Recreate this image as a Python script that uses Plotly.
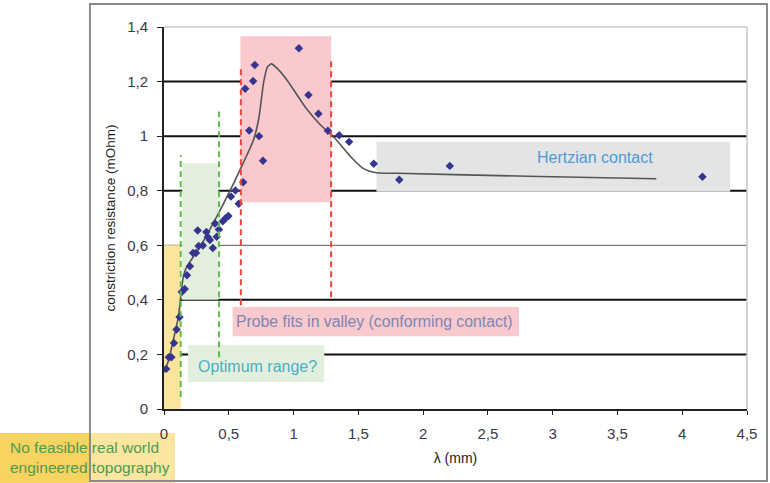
import plotly.graph_objects as go

# Measured constriction resistance versus wavelength
lam_mm = [0.017, 0.037, 0.057, 0.077, 0.097, 0.12, 0.137, 0.16, 0.177, 0.2,
          0.224, 0.247, 0.26, 0.267, 0.3, 0.327, 0.338, 0.354, 0.377, 0.394,
          0.407, 0.424, 0.454, 0.477, 0.497, 0.517, 0.551, 0.577, 0.611, 0.627,
          0.658, 0.688, 0.701, 0.734, 0.764, 1.041, 1.115, 1.192, 1.265, 1.352,
          1.429, 1.619, 1.816, 2.206, 4.156]
resistance = [0.147, 0.19, 0.19, 0.242, 0.291, 0.337, 0.429, 0.44, 0.49, 0.523,
              0.572, 0.572, 0.654, 0.597, 0.599, 0.649, 0.63, 0.619, 0.59, 0.68,
              0.631, 0.658, 0.688, 0.7, 0.707, 0.779, 0.801, 0.752, 0.831, 1.174,
              1.021, 1.202, 1.261, 1.0, 0.91, 1.322, 1.151, 1.082, 1.02, 1.003,
              0.979, 0.899, 0.84, 0.891, 0.851]

# Trend line through the measurements
trend_x = [0.0, 0.035, 0.072, 0.111, 0.129, 0.149, 0.175, 0.278, 0.407, 0.51,
           0.59, 0.69, 0.73, 0.77, 0.80, 0.83, 0.87, 0.95, 1.1, 1.21,
           1.31, 1.45, 1.54, 1.64, 1.8, 2.8, 3.8]
trend_y = [0.135, 0.178, 0.253, 0.338, 0.411, 0.485, 0.521, 0.594, 0.705, 0.80,
           0.88, 0.985, 1.06, 1.2, 1.255, 1.265, 1.25, 1.205, 1.10, 1.04,
           0.997, 0.92, 0.881, 0.866, 0.864, 0.853, 0.844]

x_ticks = [0, 0.5, 1, 1.5, 2, 2.5, 3, 3.5, 4, 4.5]
x_ticktext = ["0", "0,5", "1", "1,5", "2", "2,5", "3", "3,5", "4", "4,5"]
y_ticks = [0, 0.2, 0.4, 0.6, 0.8, 1.0, 1.2, 1.4]
y_ticktext = ["0", "0,2", "0,4", "0,6", "0,8", "1", "1,2", "1,4"]
grid_bold = [0.2, 0.4, 0.8, 1.0, 1.2]
grid_thin = [0.6]

# Shaded regimes: (x0, x1, y0, y1, colour)
regions = [
    (0.0, 0.13, 0.0, 0.6, "#fbe49c"),      # no feasible topography
    (0.14, 0.42, 0.4, 0.9, "#e2efdd"),     # optimum range
    (0.59, 1.29, 0.758, 1.366, "#f9c9cd"), # conforming contact
    (1.64, 4.37, 0.796, 0.979, "#e3e4e6"), # Hertzian contact
]
# Regime boundaries: (x, y0, y1, colour)
boundaries = [
    (0.129, 0.044, 0.93, "#5cbf4c"),
    (0.425, 0.19, 1.09, "#5cbf4c"),
    (0.593, 0.38, 1.254, "#e8453c"),
    (1.29, 0.41, 1.285, "#e8453c"),
]

FONT = "Liberation Sans, Arial"

fig = go.Figure()

fig.add_trace(go.Scatter(
    x=trend_x, y=trend_y, mode="lines",
    line=dict(color="#555555", width=1.6, shape="spline", smoothing=0.6),
    hoverinfo="skip", showlegend=False))

fig.add_trace(go.Scatter(
    x=lam_mm, y=resistance, mode="markers",
    marker=dict(symbol="diamond", size=6.5, color="#35348e"),
    showlegend=False))

shapes = []
for x0, x1, y0, y1, col in regions:
    shapes.append(dict(type="rect", xref="x", yref="y", x0=x0, x1=x1, y0=y0, y1=y1,
                       fillcolor=col, line=dict(width=0), layer="below"))

# Label backgrounds
shapes.append(dict(type="rect", xref="x", yref="y", x0=0.53, x1=2.74, y0=0.267, y1=0.374,
                   fillcolor="#f9c9cd", line=dict(width=0), layer="below"))
shapes.append(dict(type="rect", xref="x", yref="y", x0=0.186, x1=1.237, y0=0.099, y1=0.234,
                   fillcolor="#e2efdd", line=dict(width=0), layer="below"))

for g in grid_bold:
    shapes.append(dict(type="line", xref="paper", yref="y", x0=0, x1=1, y0=g, y1=g,
                       line=dict(color="#111111", width=2), layer="below"))
for g in grid_thin:
    shapes.append(dict(type="line", xref="paper", yref="y", x0=0, x1=1, y0=g, y1=g,
                       line=dict(color="#777777", width=1.2), layer="below"))

for x, y0, y1, col in boundaries:
    shapes.append(dict(type="line", xref="x", yref="y", x0=x, x1=x, y0=y0, y1=y1,
                       line=dict(color=col, width=2, dash="6px,4px")))

# Plot-area frame (light) on top and right
shapes.append(dict(type="line", xref="paper", yref="paper", x0=0, x1=1, y0=1, y1=1,
                   line=dict(color="#c8c8c8", width=1.5)))
shapes.append(dict(type="line", xref="paper", yref="paper", x0=1, x1=1, y0=0, y1=1,
                   line=dict(color="#c8c8c8", width=1.5)))

# Label outside the axes, bottom-left (kept beneath the tick labels)
shapes.append(dict(type="rect", xref="paper", yref="paper", x0=-0.2813, x1=-0.127,
                   y0=-0.1937, y1=-0.0628, fillcolor="#f7d35f", line=dict(width=0),
                   layer="below"))
shapes.append(dict(type="rect", xref="paper", yref="paper", x0=-0.127, x1=0.0189,
                   y0=-0.1937, y1=-0.0628, fillcolor="#fbe6a0", line=dict(width=0),
                   layer="below"))

# Outer chart frame
shapes.append(dict(type="rect", xref="paper", yref="paper", x0=-0.127, x1=1.0343,
                   y0=-0.1885, y1=1.0602, line=dict(color="#8a8a8a", width=2)))

annotations = [
    dict(x=3.326, y=0.923, xref="x", yref="y", text="Hertzian contact", showarrow=False,
         font=dict(family=FONT, size=16, color="#4f9ad3")),
    dict(x=1.628, y=0.322, xref="x", yref="y",
         text="Probe fits in valley (conforming contact)", showarrow=False,
         font=dict(family=FONT, size=15.8, color="#7b86b3")),
    dict(x=0.723, y=0.154, xref="x", yref="y", text="Optimum range?", showarrow=False,
         font=dict(family=FONT, size=16, color="#4aaec4")),
    dict(x=-0.268, y=-0.128, xref="paper", yref="paper", xanchor="left", yanchor="middle",
         align="left", showarrow=False,
         text="No feasible real world<br>engineered topography",
         font=dict(family=FONT, size=15.5, color="#4f9a55")),
]

fig.update_layout(
    width=770, height=483,
    margin=dict(l=164, r=23, t=27, b=74),
    paper_bgcolor="white", plot_bgcolor="white",
    shapes=shapes, annotations=annotations,
    font=dict(family=FONT, size=12, color="#333333"),
    xaxis=dict(range=[0, 4.5], tickvals=x_ticks, ticktext=x_ticktext,
               showgrid=False, zeroline=False, showline=True, linecolor="#222222",
               linewidth=2, ticks="outside", ticklen=4, tickcolor="#222222",
               ticklabelstandoff=6,
               tickfont=dict(size=15, color="#3a3a4a"),
               title=dict(text="λ (mm)", font=dict(size=14, color="#222222"), standoff=12)),
    yaxis=dict(range=[0, 1.4], tickvals=y_ticks, ticktext=y_ticktext,
               showgrid=False, zeroline=False, showline=True, linecolor="#222222",
               linewidth=2, ticks="outside", ticklen=5, tickcolor="#222222",
               ticklabelstandoff=6,
               tickfont=dict(size=15, color="#3a3a4a"),
               title=dict(text="constriction resistance (mOhm)",
                          font=dict(size=13.5, color="#222222"), standoff=8)),
)

fig.write_html("out.html")
